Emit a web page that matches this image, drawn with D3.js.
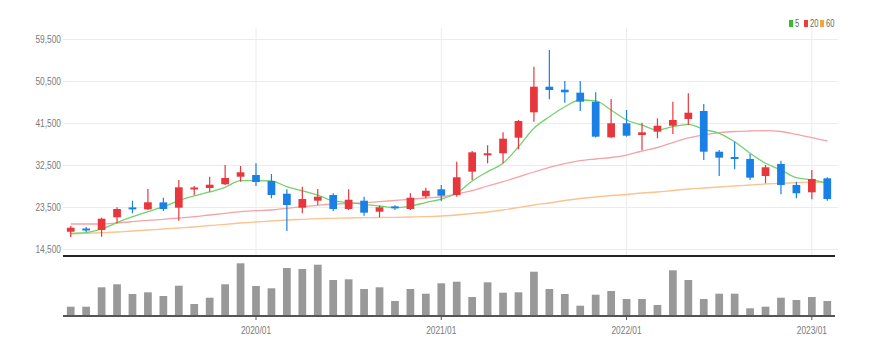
<!DOCTYPE html>
<html><head><meta charset="utf-8">
<script src="https://cdn.jsdelivr.net/npm/d3@7"></script>
<style>body{margin:0;background:#fff}svg{display:block}</style>
</head><body>
<svg id="c" width="874" height="355"></svg>
<script>
const months = ["2019/01","2019/02","2019/03","2019/04","2019/05","2019/06","2019/07","2019/08","2019/09","2019/10","2019/11","2019/12",
"2020/01","2020/02","2020/03","2020/04","2020/05","2020/06","2020/07","2020/08","2020/09","2020/10","2020/11","2020/12",
"2021/01","2021/02","2021/03","2021/04","2021/05","2021/06","2021/07","2021/08","2021/09","2021/10","2021/11","2021/12",
"2022/01","2022/02","2022/03","2022/04","2022/05","2022/06","2022/07","2022/08","2022/09","2022/10","2022/11","2022/12",
"2023/01","2023/02"];
const open = [18200,18790,18570,21290,23300,23000,24500,23350,27300,27570,28370,29990,30360,29070,26350,23350,24850,26070,23070,24850,22490,23500,23070,25790,27290,26070,31070,34580,35010,38350,43790,49280,48640,48000,46070,38440,41440,38930,39640,40920,42360,44070,35350,34150,33790,30140,32720,28220,26650,29650];
const close = [19060,18570,20990,23070,23100,24510,23070,27720,27640,28280,29720,30940,28860,26070,23930,25210,25710,23070,25060,22280,23440,23350,25490,26990,25920,29870,35220,35010,38140,41930,49280,48570,48080,46070,38570,41440,38780,39510,40920,42140,43710,35350,34070,33850,29780,32010,28220,26440,29500,25210];
const high = [19430,19210,21210,23440,24850,27360,25490,29290,28000,29990,32500,32290,32870,30570,27290,27850,27360,26440,27290,25710,23780,23860,26440,27640,28220,33210,35500,36720,39510,42140,53570,57150,50500,50500,48080,46640,44290,41570,42510,46070,47870,45570,35720,37490,34860,32500,33420,28920,31430,29870];
const low = [17070,18140,17140,20010,22150,22860,22640,20560,26070,26780,28220,28920,28000,25360,18360,22150,23930,22640,22860,21640,21290,22860,22860,25360,24790,25710,29290,32870,32870,35870,41780,46580,45850,44070,38400,38220,38570,35720,38220,39140,41070,33570,30140,31580,29290,28580,26220,25360,25150,24850];
const volume = [930,930,2870,3170,2200,2370,2000,3030,1200,1830,3170,5270,3000,2770,4800,4700,5130,3600,3670,2700,2870,1500,2700,2230,3270,3430,1900,3370,2330,2370,4430,2700,2200,1030,2130,2500,1700,1700,1100,4570,3600,1700,2230,2230,770,930,1830,1600,1900,1500];
const ma5 = [17860,17990,18790,20140,21420,22490,23560,24850,25860,26720,27720,29140,29140,29070,27850,26930,26070,24790,24460,24080,23710,23350,23710,24460,25210,26440,29070,31070,32870,36420,40370,42850,44990,46430,46220,44290,42140,41070,40000,40710,41220,40150,39290,37490,35010,32870,31430,29780,29290,28580];
const ma20 = [19860,19860,19860,20070,20350,20650,20860,21140,21420,21790,22150,22490,22710,22860,23220,23560,23860,24140,24290,24420,24640,24890,25150,25430,25640,26290,26990,28000,28920,29930,31000,31970,32780,33420,33790,34110,34640,35500,36250,37320,38290,38930,39420,39680,39790,39850,39680,39040,38390,37640];
const ma60 = [17710,17860,17990,18140,18360,18570,18790,19000,19210,19540,19790,20070,20290,20500,20710,20860,20990,21080,21140,21210,21250,21290,21360,21420,21570,21790,22110,22430,22860,23390,23930,24360,24890,25320,25640,25960,26180,26500,26710,27040,27360,27570,27790,28000,28210,28430,28580,28710,28860,28750];
const priceTicks = [14500,23500,32500,41500,50500,59500];
const xTickLabels = ["2020/01","2021/01","2022/01","2023/01"];
const legendLabels = ["5","20","60"];

const UP="#e8373c", DOWN="#1a80e6";
const lineColors=["#74d26e","#f5a3a6","#fbc38f"];
const legendColors=["#2fbf2f","#ee3b3b","#f7a23a"];
const FONT="'Liberation Sans',Arial,sans-serif";
const SQ="scale(0.76,1)";

const svg=d3.select("#c");
svg.append("rect").attr("width",874).attr("height",355).attr("fill","#fff");

const x=d3.scaleBand().domain(months).range([63,835]).paddingInner(0.5).paddingOuter(0.25);
const cx=m=>x(m)+x.bandwidth()/2;
const y=d3.scaleLinear().domain([14500,59500]).range([249,39]);
const yv=d3.scaleLinear().domain([0,5400]).range([316,262]);

// horizontal grid
const gGrid=svg.append("g").attr("transform","translate(63,0)")
  .call(d3.axisRight(y).tickValues(priceTicks).tickSize(775).tickFormat(""));
gGrid.select(".domain").remove();
gGrid.selectAll("line").attr("stroke","#ececec");
// vertical grid
svg.append("g").selectAll("line").data(xTickLabels).join("line")
  .attr("x1",d=>cx(d)).attr("x2",d=>cx(d)).attr("y1",28).attr("y2",256)
  .attr("stroke","#ececec");

// y axis labels
const gy=svg.append("g").attr("transform","translate(61,0)")
  .call(d3.axisLeft(y).tickValues(priceTicks).tickSize(0).tickPadding(0).tickFormat(d3.format(",")));
gy.select(".domain").remove();
gy.selectAll("text").attr("fill","#7a7a7a").attr("transform",SQ).style("font-family",FONT).style("font-size","11px");

// MA lines
const maData=[ma5,ma20,ma60];
[2,1,0].forEach(k=>{
  svg.append("path").datum(maData[k])
    .attr("d",d3.line().x((d,i)=>cx(months[i])).y(d=>y(d)).curve(d3.curveMonotoneX))
    .attr("fill","none").attr("stroke",lineColors[k]).attr("stroke-width",1.3);
});

// candles
const candles=months.map((m,i)=>({m,o:open[i],c:close[i],h:high[i],l:low[i],v:volume[i]}));
const gc=svg.append("g");
gc.selectAll("line").data(candles).join("line")
  .attr("x1",d=>cx(d.m)).attr("x2",d=>cx(d.m))
  .attr("y1",d=>y(d.h)).attr("y2",d=>y(d.l))
  .attr("stroke",d=>d.c>=d.o?UP:DOWN).attr("stroke-width",1.2);
gc.selectAll("rect").data(candles).join("rect")
  .attr("x",d=>x(d.m)).attr("width",x.bandwidth())
  .attr("y",d=>{const t=y(Math.max(d.o,d.c)),b=y(Math.min(d.o,d.c));return b-t<2?(t+b)/2-1:t;})
  .attr("height",d=>Math.max(2,y(Math.min(d.o,d.c))-y(Math.max(d.o,d.c))))
  .attr("fill",d=>d.c>=d.o?UP:DOWN);

// pane separator
svg.append("line").attr("x1",63).attr("x2",835).attr("y1",256).attr("y2",256)
  .attr("stroke","#222").attr("stroke-width",2);

// volume bars
svg.append("g").selectAll("rect").data(candles).join("rect")
  .attr("x",d=>x(d.m)).attr("width",x.bandwidth())
  .attr("y",d=>yv(d.v)).attr("height",d=>yv(0)-yv(d.v))
  .attr("fill","#999");

// x axis
const xAxis=d3.axisBottom(x).tickValues(xTickLabels).tickSize(4).tickPadding(6);
const gx=svg.append("g").attr("transform","translate(0,316)").call(xAxis);
gx.select(".domain").attr("stroke","#555").attr("stroke-width",2).attr("d","M63,0H835");
gx.selectAll("line").attr("stroke","#555");
gx.selectAll("text").attr("fill","#7a7a7a").attr("transform",SQ).style("font-family",FONT).style("font-size","11px");

// legend
const lg=svg.append("g");
const lx=[789,804,820];
legendLabels.forEach((t,i)=>{
  lg.append("rect").attr("x",lx[i]).attr("y",20).attr("width",4).attr("height",7).attr("fill",legendColors[i]);
  lg.append("text").attr("transform",`translate(${lx[i]+6},27) ${SQ}`).text(t)
    .attr("fill","#666").style("font-family",FONT).style("font-size","10px");
});
</script>
</body></html>
